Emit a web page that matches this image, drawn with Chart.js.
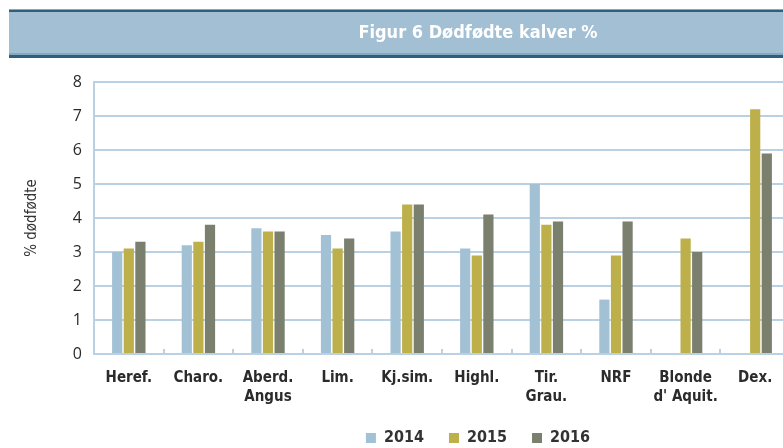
<!DOCTYPE html>
<html>
<head>
<meta charset="utf-8">
<script src="https://cdn.jsdelivr.net/npm/chart.js@4"></script>
<style>
  html, body { margin: 0; padding: 0; background: #fff; overflow: hidden; }
  #wrap { width: 783px; height: 448px; overflow: hidden; position: relative; }
  canvas { display: block; }
</style>
</head>
<body>
<div id="wrap"><canvas id="chart" width="956" height="458"></canvas></div>
<script>
// Figur 6 - dødfødte kalver (%), per rase og år
const breeds = [['Heref.'], ['Charo.'], ['Aberd.', 'Angus'], ['Lim.'], ['Kj.sim.'], ['Highl.'], ['Tir.', 'Grau.'], ['NRF'], ['Blonde', "d' Aquit."], ['Dex.']];
const years = ['2014', '2015', '2016'];
const v2014 = [3.0, 3.2, 3.7, 3.5, 3.6, 3.1, 5.0, 1.6, null, null];
const v2015 = [3.1, 3.3, 3.6, 3.1, 4.4, 2.9, 3.8, 2.9, 3.4, 7.2];
const v2016 = [3.3, 3.8, 3.6, 3.4, 4.4, 4.1, 3.9, 3.9, 3.0, 5.9];
const yMin = 0, yMax = 8, yStep = 1;

const colors = ['#a3c1d5', '#bdb04a', '#7b7f6e'];
const gridBlue = '#b9d1e2';
const narrow = "'DejaVu Sans Condensed', 'Liberation Sans Narrow', sans-serif";

// lys blå tittelstripe med mørke kanter
const titleBand = {
  id: 'titleBand',
  beforeDraw(chart) {
    const ctx = chart.ctx;
    const w = chart.width;
    ctx.save();
    ctx.fillStyle = '#a2bfd3';
    ctx.fillRect(9, 12, w - 9, 43);
    ctx.fillStyle = '#86a9c0';
    ctx.fillRect(9, 9, w - 9, 1);
    ctx.fillRect(9, 53, w - 9, 2);
    ctx.fillStyle = '#2f5f7c';
    ctx.fillRect(9, 10, w - 9, 2);
    ctx.fillRect(9, 55, w - 9, 3);
    ctx.restore();
  }
};

new Chart(document.getElementById('chart'), {
  type: 'bar',
  data: {
    labels: breeds,
    datasets: [
      { label: years[0], data: v2014, backgroundColor: colors[0] },
      { label: years[1], data: v2015, backgroundColor: colors[1] },
      { label: years[2], data: v2016, backgroundColor: colors[2] }
    ]
  },
  options: {
    responsive: false,
    animation: false,
    categoryPercentage: 0.5,
    barPercentage: 0.88,
    layout: { padding: { left: 0, right: 0, top: 0, bottom: 2 } },
    plugins: {
      title: {
        display: true,
        text: 'Figur 6 Dødfødte kalver %',
        color: '#ffffff',
        font: { family: narrow, size: 18, weight: 'bold' },
        padding: { top: 23, bottom: 37.4 }
      },
      legend: {
        position: 'bottom',
        labels: {
          boxWidth: 10,
          boxHeight: 10,
          padding: 25,
          color: '#333333',
          font: { family: narrow, size: 16, weight: 'bold' }
        }
      },
      tooltip: { enabled: false }
    },
    scales: {
      x: {
        grid: { drawOnChartArea: false, drawTicks: true, tickLength: -5, color: gridBlue, lineWidth: 2 },
        border: { color: gridBlue, width: 2 },
        ticks: {
          color: '#2b2b2b',
          padding: 19,
          font: { family: narrow, size: 15, weight: 'bold', lineHeight: 1.3 },
          maxRotation: 0,
          autoSkip: false
        },
        afterFit: s => { s.height = 51; }
      },
      y: {
        min: yMin,
        max: yMax,
        ticks: {
          stepSize: yStep,
          color: '#2b2b2b',
          padding: 12,
          font: { family: "'Open Sans', sans-serif", size: 16 }
        },
        grid: { color: gridBlue, lineWidth: 2, drawTicks: false },
        border: { color: gridBlue, width: 2 },
        title: {
          display: true,
          text: '% dødfødte',
          color: '#333333',
          font: { family: narrow, size: 15 },
          padding: { top: 23, bottom: 0 }
        },
        afterFit: s => { s.width = 94; }
      },
      pad: {
        type: 'linear',
        position: 'right',
        grid: { display: false },
        border: { display: false },
        ticks: { display: false },
        afterFit: s => { s.width = 166; }
      }
    }
  },
  plugins: [titleBand]
});
</script>
</body>
</html>
